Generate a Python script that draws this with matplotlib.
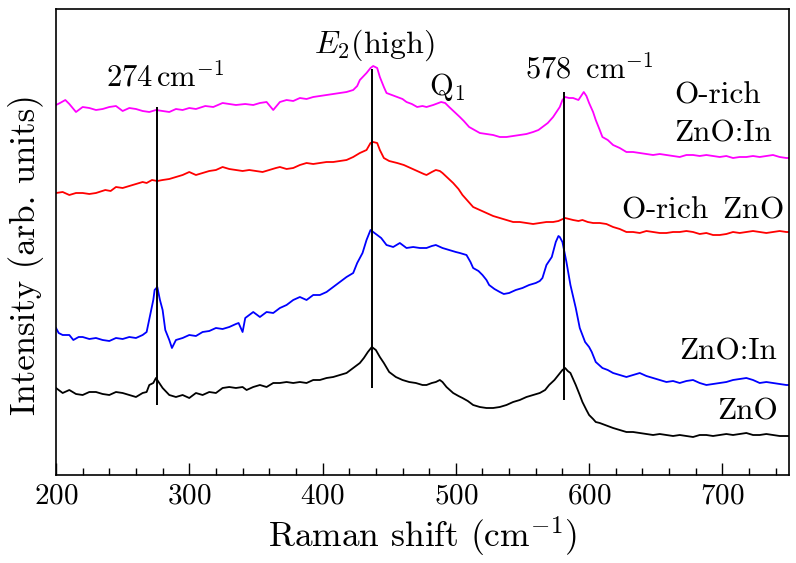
import matplotlib
matplotlib.use("Agg")
import matplotlib.pyplot as plt
from matplotlib.ticker import MultipleLocator

plt.rcParams['font.family'] = 'serif'
plt.rcParams['font.serif'] = ['cmr10']
plt.rcParams['mathtext.fontset'] = 'cm'
plt.rcParams['axes.unicode_minus'] = False
plt.rcParams['axes.formatter.use_mathtext'] = True

# ---------------- data (Raman shift in cm^-1, intensity in arb. units) -------------
orich_in_x = [200, 203, 207, 210, 215, 220, 225, 230, 235, 240, 245, 250, 255, 260, 265,
              270, 275, 280, 285, 290, 295, 300, 305, 312, 318, 325, 330, 335, 342, 348,
              353, 358, 363, 368, 373, 378, 383, 388, 393, 398, 403, 408, 413, 418, 423,
              426, 428, 433, 436, 438, 441, 443, 446, 448, 452, 456, 460, 463, 467, 471,
              475, 478, 483, 489, 492, 495, 499, 503, 506, 510, 514, 518, 523, 528, 533,
              538, 543, 548, 553, 558, 562, 565, 569, 573, 576, 578, 580, 582, 585, 588,
              592, 594, 596, 598, 600, 603, 605, 608, 610, 614, 618, 623, 628, 633, 638,
              643, 648, 653, 658, 663, 668, 673, 678, 683, 688, 693, 698, 703, 708, 713,
              718, 723, 728, 733, 738, 743, 748, 750]
orich_in_y = [370, 372, 375, 371, 363, 368, 367, 365, 366, 368, 369, 364, 367, 366, 364,
              363, 365, 364, 363, 366, 365, 367, 366, 369, 368, 372, 371, 370, 371, 370,
              372, 373, 365, 373, 375, 374, 377, 376, 378, 379, 380, 381, 382, 383, 385,
              389, 395, 402, 407, 409, 407, 398, 388, 382, 380, 378, 376, 373, 371, 368,
              369, 368, 370, 373, 372, 368, 363, 358, 354, 348, 345, 342, 341, 340, 338,
              338, 339, 340, 341, 343, 345, 348, 352, 358, 364, 368, 375, 378, 377, 377,
              375, 379, 383, 379, 372, 363, 355, 345, 338, 335, 330, 327, 323, 323, 322,
              321, 320, 321, 320, 319, 318, 320, 320, 319, 320, 319, 318, 319, 317, 318,
              318, 319, 318, 319, 320, 318, 317, 317]

orich_x = [200, 205, 210, 215, 220, 225, 230, 237, 241, 245, 250, 255, 260, 265, 268,
           272, 276, 280, 285, 290, 295, 300, 305, 310, 315, 320, 325, 330, 335, 340,
           345, 350, 355, 360, 365, 368, 373, 378, 383, 388, 393, 398, 403, 408, 413,
           418, 423, 428, 433, 436, 438, 441, 443, 446, 450, 456, 461, 466, 471, 476,
           478, 482, 485, 488, 490, 494, 498, 502, 505, 509, 513, 518, 523, 528, 533,
           538, 543, 548, 553, 558, 563, 568, 573, 577, 582, 585, 588, 592, 595, 599,
           603, 608, 613, 618, 623, 628, 633, 638, 643, 648, 653, 658, 663, 668, 673,
           678, 683, 688, 693, 698, 703, 708, 713, 718, 723, 728, 733, 738, 743, 748,
           750]
orich_y = [282, 283, 280, 282, 282, 281, 282, 285, 284, 288, 287, 289, 291, 293, 292,
           295, 294, 295, 296, 298, 300, 303, 300, 302, 304, 305, 308, 306, 305, 304,
           305, 304, 303, 305, 307, 308, 306, 307, 310, 312, 311, 312, 313, 313, 314,
           315, 318, 322, 325, 332, 333, 332, 325, 317, 314, 312, 310, 307, 304, 301,
           300, 303, 305, 304, 302, 297, 292, 286, 280, 274, 268, 265, 262, 259, 257,
           255, 253, 253, 252, 251, 252, 253, 253, 254, 257, 256, 255, 254, 255, 253,
           252, 252, 251, 248, 246, 243, 243, 242, 244, 243, 242, 242, 243, 243, 244,
           243, 241, 242, 240, 240, 241, 243, 242, 243, 244, 243, 242, 243, 244, 243,
           243]

in_x = [200, 202, 205, 210, 213, 217, 220, 225, 230, 235, 240, 245, 250, 255, 260,
        265, 268, 271, 273, 274, 276, 278, 280, 282, 285, 287, 290, 295, 300, 305,
        310, 315, 320, 325, 330, 335, 337, 340, 342, 346, 348, 353, 358, 363, 368,
        373, 378, 383, 388, 393, 398, 403, 408, 413, 418, 423, 426, 430, 433, 436,
        438, 441, 444, 448, 453, 458, 463, 468, 473, 478, 482, 485, 490, 495, 500,
        503, 508, 511, 513, 517, 520, 523, 525, 529, 533, 536, 540, 545, 550, 555,
        560, 563, 565, 568, 572, 575, 577, 578, 580, 583, 586, 590, 593, 597, 600,
        602, 605, 610, 614, 618, 623, 628, 633, 638, 643, 648, 653, 658, 663, 668,
        673, 678, 683, 688, 693, 698, 703, 708, 713, 718, 723, 728, 733, 738, 743,
        748, 750]
in_y = [147, 142, 140, 140, 135, 138, 138, 136, 137, 135, 134, 137, 136, 138, 137,
        140, 143, 162, 175, 185, 188, 175, 165, 145, 135, 127, 135, 137, 140, 139,
        143, 144, 147, 146, 148, 151, 152, 143, 157, 161, 163, 158, 163, 162, 167,
        170, 175, 178, 175, 180, 180, 183, 188, 193, 198, 202, 212, 222, 235, 245,
        243, 240, 237, 230, 228, 232, 227, 228, 227, 227, 229, 230, 227, 225, 223,
        222, 220, 213, 207, 204, 200, 195, 190, 186, 183, 181, 182, 185, 187, 190,
        192, 194, 197, 210, 218, 233, 239, 238, 233, 213, 190, 167, 147, 133, 128,
        123, 113, 107, 105, 102, 100, 98, 100, 102, 99, 97, 95, 93, 94, 92,
        94, 95, 92, 90, 91, 92, 93, 95, 96, 97, 95, 92, 93, 92, 91,
        90, 90]

zno_x = [200, 205, 210, 215, 220, 225, 230, 235, 240, 245, 250, 255, 260, 265, 268,
         270, 273, 275, 277, 280, 285, 290, 295, 300, 305, 310, 315, 320, 325, 330,
         335, 340, 343, 348, 353, 358, 363, 368, 373, 378, 383, 388, 393, 398, 403,
         408, 413, 418, 423, 428, 431, 434, 437, 440, 443, 446, 450, 455, 460, 465,
         470, 475, 478, 482, 485, 488, 490, 493, 498, 502, 505, 509, 513, 518, 523,
         528, 533, 538, 543, 548, 553, 558, 563, 567, 570, 574, 577, 580, 582, 584,
         586, 588, 590, 593, 595, 598, 600, 603, 605, 608, 612, 618, 623, 628, 633,
         638, 643, 648, 653, 658, 663, 668, 673, 678, 683, 688, 693, 698, 703, 708,
         713, 718, 723, 728, 733, 738, 743, 748, 750]
zno_y = [87, 82, 85, 81, 80, 83, 83, 81, 80, 83, 82, 80, 78, 82, 83,
         90, 92, 97, 93, 87, 80, 78, 80, 77, 82, 80, 83, 82, 87, 88,
         87, 88, 85, 88, 90, 88, 92, 92, 93, 92, 93, 92, 95, 95, 97,
         98, 100, 102, 107, 112, 117, 123, 128, 125, 118, 112, 103, 98, 95, 93,
         92, 90, 90, 92, 93, 95, 93, 88, 82, 79, 77, 74, 70, 68, 67,
         67, 68, 70, 73, 75, 78, 80, 82, 85, 90, 95, 100, 105, 107, 104,
         102, 96, 90, 80, 73, 65, 60, 56, 53, 52, 50, 47, 45, 43, 43,
         42, 41, 40, 41, 40, 39, 40, 39, 38, 40, 40, 39, 40, 41, 40,
         41, 42, 40, 40, 41, 40, 39, 39, 39]

# vertical marker lines: position, bottom, top (intensity)
marker_x = [275.5, 437.3, 581.0]
marker_lo = [70, 87, 75]
marker_hi = [368, 406, 383]

series = [
    (orich_in_x, orich_in_y, '#ff00ff'),
    (orich_x, orich_y, '#ff0000'),
    (in_x, in_y, '#0000ff'),
    (zno_x, zno_y, '#000000'),
]

fig = plt.figure(figsize=(7.96, 5.63), dpi=100)
ax = fig.add_axes([56 / 796, 1 - 475 / 563, (789 - 56) / 796, (475 - 9) / 563])

for xs, ys, c in series:
    ax.plot(xs, ys, color=c, lw=1.3)

for mx, lo, hi in zip(marker_x, marker_lo, marker_hi):
    ax.vlines(mx, lo, hi, color='black', lw=1.4)

ax.set_xlim(200, 750)
ax.set_ylim(0, 466)

ax.xaxis.set_major_locator(MultipleLocator(100))
ax.xaxis.set_minor_locator(MultipleLocator(20))
ax.tick_params(axis='x', which='major', direction='in', length=9, width=1.0,
               labelsize=21, pad=6, top=False)
ax.tick_params(axis='x', which='minor', direction='in', length=5, width=1.0, top=False)
ax.set_yticks([])
for s in ax.spines.values():
    s.set_linewidth(1.2)

ax.set_xlabel('Raman shift (cm$^{-1}$)', fontsize=25.5, labelpad=3)
ax.set_ylabel('Intensity (arb. units)', fontsize=25)
ax.yaxis.set_label_coords(-0.0164, 0.472)

fs = 22
ax.text(281.8, 389, '274$\\,$cm$^{-1}$', fontsize=22, ha='center', va='baseline')
ax.text(439, 422, '$E_2$(high)', fontsize=23, ha='center', va='baseline')
ax.text(493.6, 380, 'Q$_1$', fontsize=fs, ha='center', va='baseline')
ax.text(600, 397, '578 $\\,$cm$^{-1}$', fontsize=fs, ha='center', va='baseline')
ax.text(664, 371, 'O-rich', fontsize=22.5, ha='left', va='baseline')
ax.text(664, 333, 'ZnO:In', fontsize=22.5, ha='left', va='baseline')
ax.text(746, 257, 'O-rich $\\,$ZnO', fontsize=22.5, ha='right', va='baseline')
ax.text(741.4, 115, 'ZnO:In', fontsize=22.5, ha='right', va='baseline')
ax.text(741.4, 56, 'ZnO', fontsize=22.5, ha='right', va='baseline')

fig.savefig('out.png', dpi=100)
